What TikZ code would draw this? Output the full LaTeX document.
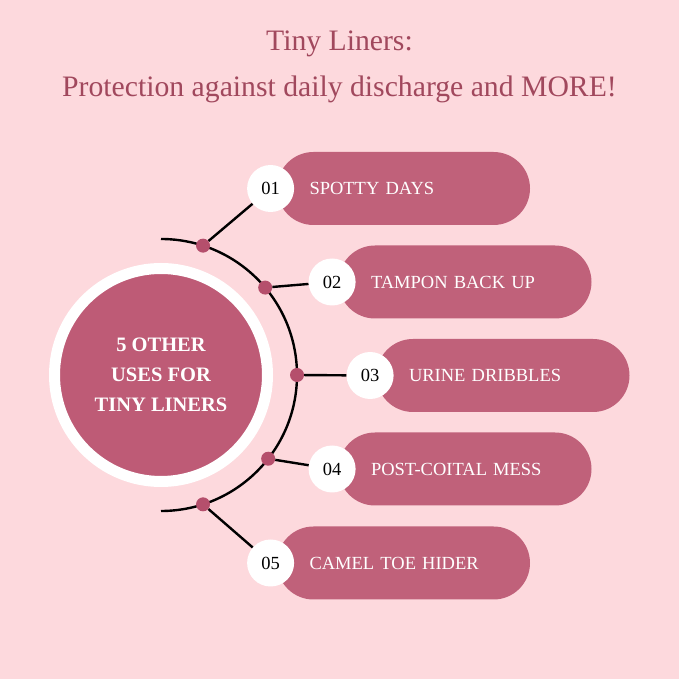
\documentclass[tikz,border=0pt]{standalone}
\usepackage{fontspec}
\setmainfont{Liberation Serif}
\usetikzlibrary{positioning}

\definecolor{bgpink}{HTML}{FDD9DD}
\definecolor{rose}{HTML}{C0617A}
\definecolor{hubrose}{HTML}{BE5B76}
\definecolor{dotrose}{HTML}{B54F6C}
\definecolor{titlerose}{HTML}{A1485D}

\begin{document}
\begin{tikzpicture}[
  x=1pt, y=1pt,
  headline/.style={text=titlerose, font=\fontsize{29.7}{31}\selectfont, inner sep=0pt},
  hubdisc/.style={circle, fill=hubrose, draw=white, line width=11pt, minimum size=213pt, align=center, text=white, font=\fontsize{20.5}{30}\selectfont\bfseries},
  wire/.style={line width=2.4pt, black},
  dot/.style={circle, fill=dotrose, minimum size=14pt, inner sep=0pt},
  pill/.style={rectangle, rounded corners=36.5pt, fill=rose, minimum height=73pt, text width=188pt, inner xsep=32.5pt, align=left, text=white, font=\fontsize{18.5}{20}\selectfont},
  numdisc/.style={circle, fill=white, minimum size=47pt, inner sep=0pt, font=\fontsize{18.5}{20}\selectfont}
]
\useasboundingbox (0,0) rectangle (679,679);
\fill[bgpink] (0,0) rectangle (679,679);

\node[headline] (t1) at (339.5,635) {Tiny Liners:};
\node[headline] (t2) at (339.5,590) {Protection against daily discharge and MORE!};

% central disc and arc
\node[hubdisc] (hub) at (161,304) {5 OTHER\\USES FOR\\TINY LINERS};
\draw[wire] ([shift={(90:136)}]hub.center) arc[start angle=90, end angle=-90, radius=136];

\node[dot] (d1) at ([shift={(72:136)}]hub.center) {};
\node[dot] (d2) at ([shift={(40:136)}]hub.center) {};
\node[dot] (d3) at ([shift={(0:136)}]hub.center) {};
\node[dot] (d4) at ([shift={(-38:136)}]hub.center) {};
\node[dot] (d5) at ([shift={(-72:136)}]hub.center) {};

% items
\node[pill] (p1) at (403.5,490.5) {SPOTTY DAYS};
\node[pill] (p2) at (465,397) {TAMPON BACK UP};
\node[pill] (p3) at (503,303.5) {URINE DRIBBLES};
\node[pill] (p4) at (465,210) {POST-COITAL MESS};
\node[pill] (p5) at (403.5,116) {CAMEL TOE HIDER};

\node[numdisc, left=-17.5pt of p1] (n1) {01};
\node[numdisc, left=-17.5pt of p2] (n2) {02};
\node[numdisc, left=-17.5pt of p3] (n3) {03};
\node[numdisc, left=-17.5pt of p4] (n4) {04};
\node[numdisc, left=-17.5pt of p5] (n5) {05};

\draw[wire] (d1) -- (n1);
\draw[wire] (d2) -- (n2);
\draw[wire] (d3) -- (n3);
\draw[wire] (d4) -- (n4);
\draw[wire] (d5) -- (n5);
\end{tikzpicture}
\end{document}
